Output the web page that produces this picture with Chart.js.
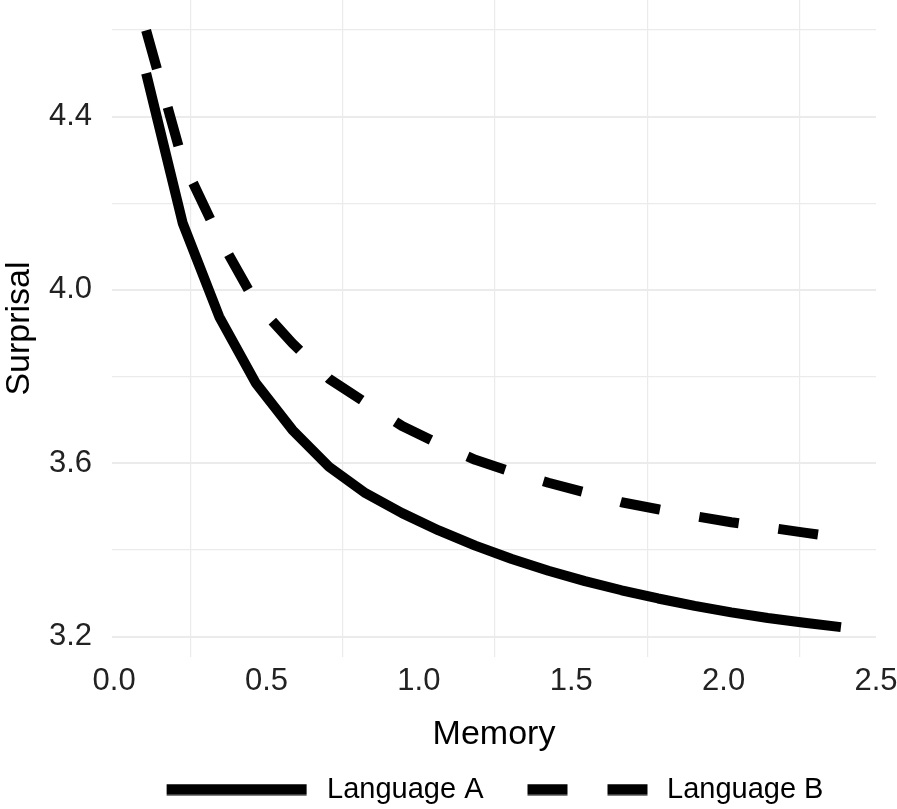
<!DOCTYPE html>
<html>
<head>
<meta charset="utf-8">
<script src="https://cdn.jsdelivr.net/npm/chart.js@4/dist/chart.umd.min.js"></script>
<style>
html,body{margin:0;padding:0;background:#ffffff;}
#wrap{width:897px;height:809px;position:relative;}
</style>
</head>
<body>
<div id="wrap"><canvas id="chart"></canvas></div>
<script>
// ---- data ----
const memory = [0.105, 0.225, 0.345, 0.465, 0.585, 0.705, 0.825, 0.945, 1.065, 1.185,
                1.305, 1.425, 1.545, 1.665, 1.785, 1.905, 2.025, 2.145, 2.265, 2.385];
const languageA = [4.500, 4.154, 3.938, 3.785, 3.677, 3.592, 3.531, 3.485, 3.445, 3.410,
                   3.379, 3.352, 3.328, 3.307, 3.288, 3.271, 3.256, 3.243, 3.232, 3.222];
const languageB = [4.599, 4.297, 4.120, 3.970, 3.877, 3.795, 3.740, 3.686, 3.645, 3.608,
                   3.580, 3.555, 3.533, 3.510, 3.494, 3.478, 3.464, 3.452, 3.440, 3.428];
const seriesNames = ['Language A', 'Language B'];
const xTicks = [0, 0.25, 0.5, 0.75, 1, 1.25, 1.5, 1.75, 2, 2.25, 2.5];
const xTickLabels = ['0.0', '', '0.5', '', '1.0', '', '1.5', '', '2.0', '', '2.5'];
const yTicks = [3.2, 3.4, 3.6, 3.8, 4.0, 4.2, 4.4, 4.6];
const yTickLabels = ['3.2', '', '3.6', '', '4.0', '', '4.4', ''];
const xTitle = 'Memory';
const yTitle = 'Surprisal';

// ---- legend keys ----
function keyImage(dashed) {
  const c = document.createElement('canvas');
  c.width = 148; c.height = 12;
  const g = c.getContext('2d');
  g.fillStyle = '#000000';
  if (!dashed) {
    g.fillRect(2, 0.5, 140, 11);
  } else {
    g.fillRect(23, 0.5, 40, 11);
    g.fillRect(103, 0.5, 40, 11);
  }
  return c;
}
const keys = [keyImage(false), keyImage(true)];

const GRID = '#ebebeb';
const tickFont = {family: 'Liberation Sans, Arial, sans-serif', size: 31, lineHeight: 1.2};
const titleFont = {family: 'Liberation Sans, Arial, sans-serif', size: 34, lineHeight: 1.2};

new Chart(document.getElementById('chart'), {
  type: 'line',
  data: {
    datasets: [
      {
        label: seriesNames[0],
        data: memory.map((m, i) => ({x: m, y: languageA[i]})),
        borderColor: '#000000',
        backgroundColor: '#000000',
        borderWidth: 10,
        borderCapStyle: 'butt',
        borderJoinStyle: 'round',
        pointRadius: 0,
        tension: 0,
        fill: false
      },
      {
        label: seriesNames[1],
        data: memory.map((m, i) => ({x: m, y: languageB[i]})),
        borderColor: '#000000',
        backgroundColor: '#000000',
        borderWidth: 10,
        borderDash: [40, 40],
        borderCapStyle: 'butt',
        borderJoinStyle: 'round',
        pointRadius: 0,
        tension: 0,
        fill: false
      }
    ]
  },
  options: {
    responsive: true,
    maintainAspectRatio: false,
    animation: false,
    events: [],
    layout: {padding: {left: 0, right: 21, top: 0, bottom: -5}},
    plugins: {
      tooltip: {enabled: false},
      legend: {
        display: true,
        position: 'bottom',
        fullSize: false,
        labels: {
          usePointStyle: true,
          pointStyleWidth: 148,
          padding: 21,
          color: '#000000',
          font: {family: 'Liberation Sans, Arial, sans-serif', size: 29},
          generateLabels: (chart) => chart.data.datasets.map((ds, i) => ({
            text: ds.label,
            pointStyle: keys[i],
            fillStyle: '#000000',
            strokeStyle: '#000000',
            lineWidth: 0,
            hidden: false,
            datasetIndex: i
          }))
        }
      }
    },
    scales: {
      x: {
        type: 'linear',
        min: -0.007,
        max: 2.5,
        border: {display: false},
        afterBuildTicks: (s) => { s.ticks = xTicks.map(v => ({value: v})); },
        afterFit: (s) => { s.height = 97; s.paddingLeft = 0; s.paddingRight = 0; },
        grid: {
          drawTicks: false,
          color: (ctx) => (ctx.tick && xTickLabels[xTicks.indexOf(ctx.tick.value)] === '') ? GRID : 'rgba(0,0,0,0)',
          lineWidth: 1.2
        },
        ticks: {
          autoSkip: false,
          maxRotation: 0,
          padding: 6,
          color: '#222222',
          font: tickFont,
          callback: (v, i) => xTickLabels[i]
        },
        title: {
          display: true,
          text: xTitle,
          color: '#000000',
          font: titleFont,
          padding: {top: 0, bottom: -1}
        }
      },
      y: {
        type: 'linear',
        min: 3.153,
        max: 4.669,
        border: {display: false},
        afterBuildTicks: (s) => { s.ticks = yTicks.map(v => ({value: v})); },
        afterFit: (s) => { s.width = 112; s.paddingTop = 0; s.paddingBottom = 0; },
        grid: {
          drawTicks: false,
          color: GRID,
          lineWidth: (ctx) => (ctx.tick && yTickLabels[ctx.index] !== '') ? 2 : 1.2
        },
        ticks: {
          autoSkip: false,
          padding: 20,
          color: '#222222',
          font: tickFont,
          callback: (v, i) => yTickLabels[i]
        },
        title: {
          display: true,
          text: yTitle,
          color: '#000000',
          font: titleFont,
          padding: {top: -1, bottom: 0}
        }
      }
    }
  }
});
</script>
</body>
</html>
